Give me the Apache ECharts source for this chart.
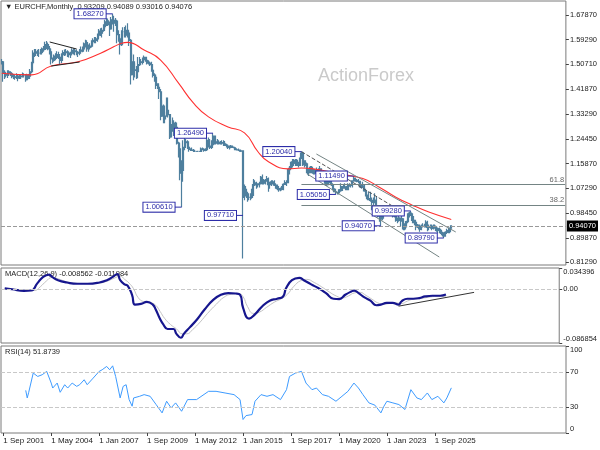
<!DOCTYPE html>
<html>
<head>
<meta charset="utf-8">
<script src="https://cdn.jsdelivr.net/npm/echarts@6/dist/echarts.min.js"></script>
<style>
  html, body { margin: 0; padding: 0; background: #fff; }
  #chart { width: 600px; height: 450px; }
</style>
</head>
<body>
<div id="chart"></div>
<script>
// monthly bars, index 0 = Aug 2001 ... index 300 = Aug 2026
var closes = [
  1.515, 1.475, 1.470, 1.468, 1.480,
  1.475, 1.473, 1.463, 1.460, 1.462, 1.465, 1.458, 1.463, 1.465, 1.467, 1.467, 1.452,
  1.468, 1.465, 1.480, 1.512, 1.545, 1.545, 1.550, 1.545, 1.545, 1.548, 1.560, 1.558,
  1.575, 1.575, 1.560, 1.550, 1.525, 1.520, 1.535, 1.530, 1.540, 1.530, 1.520, 1.540,
  1.547, 1.550, 1.547, 1.545, 1.540, 1.545, 1.555, 1.553, 1.550, 1.548, 1.545, 1.556,
  1.552, 1.560, 1.578, 1.582, 1.560, 1.565, 1.570, 1.585, 1.590, 1.590, 1.595, 1.608,
  1.622, 1.615, 1.625, 1.638, 1.655, 1.658, 1.645, 1.630, 1.662, 1.660, 1.650, 1.657,
  1.610, 1.595, 1.575, 1.620, 1.620, 1.608, 1.625, 1.615, 1.590, 1.470, 1.515, 1.487,
  1.485, 1.480, 1.505, 1.515, 1.513, 1.522, 1.530, 1.520, 1.510, 1.510, 1.505, 1.485,
  1.467, 1.460, 1.432, 1.425, 1.410, 1.325, 1.360, 1.315, 1.325, 1.345, 1.330, 1.252,
  1.295, 1.275, 1.300, 1.285, 1.230, 1.210, 1.125, 1.135, 1.215, 1.232, 1.235, 1.215,
  1.208, 1.206, 1.205, 1.201, 1.201, 1.201, 1.201, 1.201, 1.210, 1.208, 1.205, 1.207,
  1.240, 1.220, 1.215, 1.225, 1.255, 1.230, 1.235, 1.233, 1.228, 1.230, 1.232, 1.228,
  1.222, 1.220, 1.215, 1.220, 1.218, 1.215, 1.214, 1.207, 1.207, 1.206, 1.202, 1.203,
  1.040, 1.068, 1.045, 1.040, 1.040, 1.040, 1.060, 1.085, 1.090, 1.085, 1.085, 1.088,
  1.110, 1.090, 1.093, 1.100, 1.105, 1.085, 1.088, 1.095, 1.090, 1.083, 1.077, 1.071,
  1.067, 1.068, 1.072, 1.086, 1.090, 1.092, 1.135, 1.142, 1.158, 1.165, 1.160, 1.170,
  1.155, 1.152, 1.177, 1.195, 1.155, 1.160, 1.155, 1.127, 1.127, 1.145, 1.130, 1.125,
  1.135, 1.135, 1.118, 1.140, 1.125, 1.110, 1.105, 1.090, 1.085, 1.100, 1.098, 1.085,
  1.068, 1.060, 1.058, 1.057, 1.067, 1.065, 1.078, 1.077, 1.077, 1.067, 1.083, 1.082,
  1.082, 1.098, 1.107, 1.100, 1.098, 1.096, 1.080, 1.075, 1.080, 1.063, 1.045, 1.036,
  1.035, 1.030, 1.023, 1.027, 1.030, 1.000, 0.975, 0.980, 0.965, 0.988, 0.985, 0.987,
  1.005, 0.998, 0.997, 0.985, 0.975, 0.980, 0.962, 0.960, 0.968, 0.960, 0.965, 0.930,
  0.938, 0.955, 0.975, 0.985, 0.978, 0.960, 0.960, 0.945, 0.940, 0.935, 0.928, 0.940,
  0.940, 0.940, 0.953, 0.935, 0.938, 0.935, 0.932, 0.940, 0.935, 0.925, 0.930, 0.925,
  0.915, 0.910, 0.905, 0.918, 0.924, 0.920, 0.93209, 0.94076
];
var highs = [
  1.525, 1.518, 1.485, 1.480, 1.485,
  1.485, 1.482, 1.478, 1.472, 1.470, 1.475, 1.470, 1.470, 1.470, 1.477, 1.475, 1.472,
  1.473, 1.472, 1.490, 1.515, 1.555, 1.560, 1.560, 1.557, 1.560, 1.560, 1.565, 1.570,
  1.585, 1.588, 1.582, 1.570, 1.560, 1.530, 1.540, 1.545, 1.552, 1.550, 1.535, 1.545,
  1.555, 1.558, 1.560, 1.555, 1.552, 1.550, 1.562, 1.562, 1.560, 1.558, 1.552, 1.560,
  1.568, 1.568, 1.582, 1.592, 1.590, 1.575, 1.580, 1.590, 1.597, 1.602, 1.602, 1.614,
  1.630, 1.632, 1.634, 1.646, 1.662, 1.667, 1.666, 1.656, 1.672, 1.683, 1.676, 1.668,
  1.662, 1.625, 1.602, 1.625, 1.636, 1.637, 1.642, 1.650, 1.622, 1.595, 1.545, 1.540,
  1.510, 1.500, 1.532, 1.532, 1.525, 1.530, 1.537, 1.532, 1.522, 1.520, 1.516, 1.515,
  1.490, 1.475, 1.470, 1.440, 1.440, 1.420, 1.380, 1.365, 1.340, 1.390, 1.390, 1.330,
  1.310, 1.320, 1.310, 1.305, 1.285, 1.235, 1.230, 1.170, 1.240, 1.250, 1.245, 1.240,
  1.220, 1.212, 1.215, 1.210, 1.205, 1.203, 1.203, 1.203, 1.215, 1.215, 1.210, 1.212,
  1.250, 1.250, 1.245, 1.240, 1.265, 1.250, 1.245, 1.245, 1.240, 1.238, 1.240, 1.240,
  1.238, 1.228, 1.225, 1.222, 1.224, 1.222, 1.218, 1.216, 1.212, 1.211, 1.206, 1.204,
  1.205, 1.085, 1.080, 1.060, 1.055, 1.055, 1.070, 1.105, 1.100, 1.095, 1.090, 1.095,
  1.115, 1.120, 1.105, 1.105, 1.115, 1.110, 1.095, 1.100, 1.100, 1.100, 1.090, 1.085,
  1.080, 1.075, 1.080, 1.090, 1.100, 1.100, 1.140, 1.150, 1.165, 1.175, 1.175, 1.175,
  1.175, 1.165, 1.180, 1.2004, 1.200, 1.170, 1.170, 1.160, 1.140, 1.150, 1.150, 1.140,
  1.140, 1.145, 1.140, 1.150, 1.140, 1.130, 1.120, 1.105, 1.105, 1.105, 1.105, 1.100,
  1.090, 1.072, 1.070, 1.060, 1.068, 1.090, 1.080, 1.085, 1.090, 1.080, 1.090, 1.090,
  1.085, 1.100, 1.1149, 1.110, 1.105, 1.105, 1.095, 1.085, 1.095, 1.085, 1.070, 1.050,
  1.060, 1.060, 1.040, 1.040, 1.055, 1.045, 1.010, 0.980, 0.980, 0.995, 0.990, 0.995,
  1.010, 1.005, 1.000, 1.000, 0.990, 0.985, 0.980, 0.970, 0.980, 0.968, 0.975, 0.965,
  0.950, 0.958, 0.985, 0.990, 0.9928, 0.985, 0.975, 0.960, 0.955, 0.945, 0.945, 0.945,
  0.950, 0.948, 0.960, 0.958, 0.945, 0.945, 0.945, 0.945, 0.945, 0.940, 0.935, 0.935,
  0.930, 0.920, 0.918, 0.922, 0.930, 0.935, 0.935, 0.94089
];
var lows = [
  1.505, 1.445, 1.455, 1.460, 1.458,
  1.465, 1.465, 1.457, 1.455, 1.452, 1.455, 1.447, 1.455, 1.455, 1.460, 1.460, 1.445,
  1.450, 1.455, 1.455, 1.475, 1.505, 1.532, 1.535, 1.535, 1.532, 1.540, 1.540, 1.550,
  1.555, 1.560, 1.555, 1.540, 1.505, 1.510, 1.515, 1.520, 1.525, 1.525, 1.505, 1.510,
  1.535, 1.535, 1.537, 1.532, 1.530, 1.528, 1.538, 1.540, 1.538, 1.538, 1.532, 1.538,
  1.545, 1.548, 1.555, 1.565, 1.550, 1.550, 1.560, 1.565, 1.575, 1.580, 1.580, 1.585,
  1.600, 1.605, 1.600, 1.620, 1.630, 1.640, 1.640, 1.605, 1.630, 1.645, 1.620, 1.640,
  1.580, 1.585, 1.540, 1.570, 1.605, 1.600, 1.600, 1.600, 1.570, 1.435, 1.470, 1.450,
  1.460, 1.455, 1.457, 1.500, 1.505, 1.505, 1.515, 1.515, 1.505, 1.505, 1.500, 1.480,
  1.460, 1.445, 1.420, 1.420, 1.385, 1.310, 1.330, 1.300, 1.300, 1.330, 1.320, 1.245,
  1.250, 1.270, 1.255, 1.265, 1.225, 1.180, 1.100, 1.0061, 1.095, 1.205, 1.220, 1.210,
  1.200, 1.203, 1.203, 1.199, 1.200, 1.200, 1.200, 1.200, 1.200, 1.205, 1.200, 1.202,
  1.205, 1.215, 1.210, 1.210, 1.225, 1.225, 1.225, 1.225, 1.225, 1.225, 1.225, 1.220,
  1.220, 1.215, 1.210, 1.208, 1.212, 1.213, 1.212, 1.205, 1.204, 1.203, 1.201, 1.200,
  0.826, 1.030, 1.045, 1.025, 1.030, 1.030, 1.035, 1.045, 1.080, 1.070, 1.075, 1.075,
  1.085, 1.085, 1.085, 1.085, 1.095, 1.060, 1.070, 1.080, 1.085, 1.080, 1.070, 1.065,
  1.060, 1.062, 1.064, 1.065, 1.085, 1.080, 1.090, 1.120, 1.135, 1.145, 1.150, 1.150,
  1.150, 1.145, 1.150, 1.175, 1.150, 1.145, 1.150, 1.120, 1.115, 1.128, 1.125, 1.120,
  1.120, 1.130, 1.115, 1.115, 1.120, 1.105, 1.100, 1.080, 1.080, 1.085, 1.090, 1.080,
  1.065, 1.058, 1.0505, 1.050, 1.050, 1.060, 1.062, 1.070, 1.070, 1.066, 1.065, 1.077,
  1.075, 1.075, 1.095, 1.095, 1.093, 1.090, 1.075, 1.070, 1.075, 1.060, 1.045, 1.030,
  1.030, 1.025, 0.995, 1.010, 1.020, 0.995, 0.970, 0.955, 0.9407, 0.960, 0.965, 0.975,
  0.985, 0.985, 0.975, 0.980, 0.970, 0.970, 0.955, 0.950, 0.955, 0.940, 0.955, 0.925,
  0.925, 0.935, 0.950, 0.970, 0.975, 0.950, 0.950, 0.925, 0.935, 0.928, 0.920, 0.925,
  0.935, 0.935, 0.935, 0.922, 0.925, 0.930, 0.925, 0.928, 0.930, 0.920, 0.915, 0.915,
  0.912, 0.903, 0.8979, 0.902, 0.912, 0.915, 0.915, 0.93016
];

// [month index, value]
var maPoints = [
  [0, 1.475], [20, 1.469], [33, 1.500], [51, 1.515], [66, 1.545], [75, 1.568], [80, 1.580],
  [84, 1.583], [95, 1.556], [106, 1.521], [118, 1.440], [128, 1.370], [138, 1.322], [151, 1.287],
  [162, 1.266], [171, 1.200], [178, 1.165], [191, 1.140], [200, 1.143], [208, 1.140], [226, 1.122],
  [241, 1.106], [252, 1.076], [263, 1.041], [274, 1.013], [285, 0.989], [300, 0.963]
];
var macdPoints = [
  [2, 0.0016], [7, 0], [15, -0.0026], [20, -0.002], [24, 0.0095], [28, 0.020], [32, 0.0237],
  [34, 0.020], [38, 0.0147], [44, 0.011], [51, 0.0089], [58, 0.0089], [66, 0.011], [71, 0.0147],
  [75, 0.020], [78, 0.0247], [80, 0.0147], [83, 0.0079], [85, 0.0058], [88, -0.0089], [90, -0.0247],
  [94, -0.0237], [98, -0.0205], [102, -0.0247], [104, -0.0326], [107, -0.0484], [109, -0.0563],
  [112, -0.0642], [116, -0.0642], [118, -0.0721], [121, -0.0784], [123, -0.0721], [127, -0.0616],
  [132, -0.0484], [137, -0.0326], [143, -0.0168], [148, -0.0089], [153, -0.0063], [158, -0.0068],
  [161, -0.0089], [163, -0.030], [167, -0.0474], [171, -0.0405], [176, -0.0274], [181, -0.0184],
  [186, -0.0153], [190, -0.0116], [192, 0.0016], [196, 0.0147], [201, 0.0184], [204, 0.0147],
  [209, 0.0079], [214, 0.0016], [219, -0.0063], [224, -0.0153], [228, -0.0158], [232, -0.0089],
  [236, -0.0037], [238, -0.0021], [241, -0.0063], [245, -0.0132], [249, -0.0184], [253, -0.0258],
  [256, -0.0247], [260, -0.0221], [264, -0.0221], [268, -0.0247], [270, -0.0195], [274, -0.0153],
  [278, -0.0153], [282, -0.0142], [286, -0.0116], [291, -0.0105], [296, -0.0105], [300, -0.008562]
];
var signalPoints = [
  [2, 0.001], [9, 0.000], [17, -0.0015], [22, -0.002], [26, 0.004], [30, 0.013], [34, 0.019],
  [38, 0.017], [44, 0.012], [51, 0.0095], [58, 0.009], [66, 0.010], [71, 0.013], [76, 0.018],
  [80, 0.021], [83, 0.016], [86, 0.010], [89, 0.001], [92, -0.013], [96, -0.020], [100, -0.021],
  [104, -0.026], [107, -0.036], [110, -0.047], [114, -0.057], [118, -0.064], [122, -0.072],
  [125, -0.072], [129, -0.065], [134, -0.053], [139, -0.039], [145, -0.024], [150, -0.013],
  [155, -0.008], [160, -0.007], [163, -0.012], [166, -0.028], [170, -0.039], [174, -0.037],
  [179, -0.029], [184, -0.021], [189, -0.015], [193, -0.008], [197, 0.004], [202, 0.014],
  [206, 0.016], [211, 0.011], [216, 0.004], [221, -0.004], [226, -0.011], [230, -0.014],
  [234, -0.011], [238, -0.006], [242, -0.005], [246, -0.010], [250, -0.016], [254, -0.022],
  [258, -0.024], [262, -0.023], [266, -0.022], [270, -0.023], [274, -0.019], [278, -0.016],
  [283, -0.015], [288, -0.013], [294, -0.0115], [300, -0.011984]
];
var rsiPoints = [
  [16, 49], [17, 40.3], [18, 46.8], [19, 48], [21, 68.9], [24, 65], [27, 67], [30, 70.8],
  [33, 57.4], [34, 51.7], [37, 57.4], [39, 46.8], [42, 55.5], [44, 51.7], [47, 57.4], [50, 53.6],
  [52, 55.5], [55, 61.2], [57, 55.5], [61, 63.1], [65, 70.8], [67, 72.7], [70, 76.5], [72, 72.7],
  [74, 77.2], [76, 65], [79, 40.3], [81, 53.6], [83, 55.5], [85, 38.4], [87, 30.8], [88, 40.3],
  [92, 42.2], [95, 44.1], [99, 42.2], [103, 32.7], [107, 23.1], [110, 36.5], [113, 28.9],
  [116, 34.6], [120, 25], [124, 38.4], [130, 38.4], [138, 47.9], [143, 47.9], [149, 46],
  [155, 44.1], [159, 38.4], [161, 15.5], [163, 20], [167, 21.2], [169, 36.5], [173, 44.1],
  [177, 42.2], [181, 44.1], [186, 38.4], [190, 49.8], [192, 65], [196, 68.9], [200, 70.8],
  [203, 57.4], [207, 49.8], [210, 51.7], [214, 44.1], [218, 42.2], [223, 36.5], [227, 42.2],
  [231, 47.9], [235, 57.4], [238, 51.7], [241, 44.1], [245, 34.6], [249, 32], [253, 23.1],
  [255, 30.8], [257, 36.5], [261, 34.6], [265, 32.7], [269, 27], [273, 49.8], [277, 40.3],
  [280, 38.4], [284, 46], [287, 38.4], [291, 42.2], [295, 34.6], [297, 40.3], [300, 51.8739]
];

// swing-point labels: month index of the bar, price
var pivotMonths = [74, 141, 120, 161, 200, 235, 223, 273, 253, 295];
var pivotPrices = [1.6827, 1.2649, 1.0061, 0.9771, 1.2004, 1.1149, 1.0505, 0.9928, 0.9407, 0.8979];

var priceTicks = [0.8129, 0.8987, 0.9845, 1.0729, 1.1587, 1.2445, 1.3329, 1.4187, 1.5071, 1.5929, 1.6787];
var macdTicks = [-0.086854, 0, 0.034396];
var rsiTicks = [0, 30, 70, 100];
var fibNames = ['61.8', '38.2'];
var fibLevels = [1.0848, 1.0135];
var lastPrice = 0.9407;

var monthNames = ['Jan', 'Feb', 'Mar', 'Apr', 'May', 'Jun', 'Jul', 'Aug', 'Sep', 'Oct', 'Nov', 'Dec'];
var months = [];
for (var i = 0; i < 377; i++) {
  var m = 7 + i;
  months.push('1 ' + monthNames[m % 12] + ' ' + (2001 + Math.floor(m / 12)));
}

var candles = closes.map(function (c, i) {
  var o = i === 0 ? c : closes[i - 1];
  return [o, c, lows[i], highs[i]];
});

var font = '"Liberation Sans", Arial, sans-serif';
var barColor = '#4e7f9e';
var boxBlue = '#2c2ca8';

function showLabel(i) { return i % 32 === 1 && i <= 300; }

function renderPivot(params, api) {
  var p = api.coord([api.value(0), api.value(1)]);
  var x0 = p[0] - 7;
  return {
    type: 'group',
    children: [
      { type: 'line', shape: { x1: x0, y1: p[1], x2: p[0], y2: p[1] }, style: { stroke: boxBlue, lineWidth: 1 } },
      {
        type: 'text', x: x0, y: p[1],
        style: {
          text: api.value(1).toFixed(5), font: '7.5px ' + font, fill: boxBlue,
          align: 'right', verticalAlign: 'middle',
          backgroundColor: '#fff', borderColor: boxBlue, borderWidth: 1, padding: [1, 2, 0, 2]
        }
      }
    ]
  };
}

function seg(a, b, style) {
  return [{ coord: a, lineStyle: style }, { coord: b }];
}

var chart = echarts.init(document.getElementById('chart'));
var option = {
  animation: false,
  backgroundColor: '#fff',
  textStyle: { fontFamily: font },
  grid: [
    { left: 1, top: 1, width: 565, height: 264, show: true, borderColor: '#7a7a7a', borderWidth: 1 },
    { left: 1, top: 268, width: 565, height: 75, show: true, borderColor: '#7a7a7a', borderWidth: 1 },
    { left: 1, top: 346, width: 565, height: 87, show: true, borderColor: '#7a7a7a', borderWidth: 1 }
  ],
  xAxis: [0, 1, 2].map(function (g) {
    return {
      type: 'category', gridIndex: g, data: months, boundaryGap: true,
      axisLine: { show: false },
      axisTick: { show: g === 2, interval: showLabel, alignWithLabel: true, length: 3, lineStyle: { color: '#444' } },
      axisLabel: {
        show: g === 2, interval: showLabel, align: 'left', margin: 4,
        fontSize: 8, color: '#222', fontFamily: font
      },
      splitLine: { show: false }
    };
  }),
  yAxis: [
    {
      type: 'value', gridIndex: 0, position: 'right', min: 0.8035, max: 1.7277,
      axisLine: { show: false }, splitLine: { show: false },
      axisTick: { show: true, customValues: priceTicks, length: 3, lineStyle: { color: '#444' } },
      axisLabel: {
        customValues: priceTicks, margin: 4, fontSize: 7.5, color: '#222', fontFamily: font,
        formatter: function (v) { return v.toFixed(5); }
      }
    },
    {
      type: 'value', gridIndex: 1, position: 'right', min: -0.086854, max: 0.034396,
      axisLine: { show: false }, splitLine: { show: false },
      axisTick: { show: true, customValues: macdTicks, length: 3, lineStyle: { color: '#444' } },
      axisLabel: {
        customValues: macdTicks, margin: 4, fontSize: 7.5, color: '#222', fontFamily: font,
        verticalAlignMinLabel: 'bottom', verticalAlignMaxLabel: 'top',
        formatter: function (v) { return v === 0 ? '0.00' : String(v); }
      }
    },
    {
      type: 'value', gridIndex: 2, position: 'right', min: 0, max: 100,
      axisLine: { show: false }, splitLine: { show: false },
      axisTick: { show: true, customValues: rsiTicks, length: 3, lineStyle: { color: '#444' } },
      axisLabel: {
        customValues: rsiTicks, margin: 4, fontSize: 7.5, color: '#222', fontFamily: font,
        verticalAlignMinLabel: 'bottom', verticalAlignMaxLabel: 'top'
      }
    }
  ],
  graphic: [
    { type: 'text', left: 5, top: 3, style: { text: '\u25BC EURCHF,Monthly  0.93209 0.94089 0.93016 0.94076', font: '7.5px ' + font, fill: '#222' } },
    { type: 'text', left: 318, top: 67, style: { text: 'ActionForex', font: '18px ' + font, fill: '#cacaca' } },
    { type: 'text', left: 5, top: 270, style: { text: 'MACD(12,26,9) -0.008562 -0.011984', font: '7.5px ' + font, fill: '#222' } },
    { type: 'text', left: 5, top: 348, style: { text: 'RSI(14) 51.8739', font: '7.5px ' + font, fill: '#222' } }
  ],
  series: [
    {
      name: 'EURCHF', type: 'candlestick', xAxisIndex: 0, yAxisIndex: 0,
      data: candles, barWidth: 1.5,
      itemStyle: { color: barColor, color0: barColor, borderColor: barColor, borderColor0: barColor, borderWidth: 1.2 },
      markLine: {
        silent: true, symbol: ['none', 'none'], animation: false,
        label: { show: false },
        data: [
          seg([32, 1.5842], [50, 1.5597], { color: '#222', width: 1, type: 'solid' }),
          seg([33, 1.4999], [52, 1.5142], { color: '#222', width: 1, type: 'solid' }),
          seg([210, 1.192], [303, 0.919], { color: '#748484', width: 1, type: 'solid' }),
          seg([204, 1.122], [292, 0.8315], { color: '#748484', width: 1, type: 'solid' }),
          seg([200, 1.2004], [263, 1.003], { color: '#555', width: 1, type: 'dashed' }),
          [
            { coord: [200, fibLevels[0]], lineStyle: { color: '#748484', width: 1, type: 'solid' },
              label: { show: true, position: 'insideEndTop', formatter: fibNames[0], fontSize: 7.5, color: '#666', distance: 1 } },
            { coord: [376, fibLevels[0]] }
          ],
          [
            { coord: [200, fibLevels[1]], lineStyle: { color: '#748484', width: 1, type: 'solid' },
              label: { show: true, position: 'insideEndTop', formatter: fibNames[1], fontSize: 7.5, color: '#666', distance: 1 } },
            { coord: [376, fibLevels[1]] }
          ],
          {
            yAxis: lastPrice, lineStyle: { color: '#999', width: 1, type: 'dashed' },
            label: {
              show: true, position: 'end', distance: 1, formatter: lastPrice.toFixed(5),
              backgroundColor: '#000', color: '#fff', fontSize: 7.5, padding: [2, 2, 1, 2]
            }
          }
        ]
      }
    },
    {
      name: 'MA', type: 'line', xAxisIndex: 0, yAxisIndex: 0, data: maPoints,
      smooth: true, showSymbol: false, lineStyle: { color: '#ff3030', width: 1.1 }
    },
    {
      name: 'pivots', type: 'custom', xAxisIndex: 0, yAxisIndex: 0, z: 5,
      data: pivotMonths.map(function (m, i) { return [m, pivotPrices[i]]; }),
      renderItem: renderPivot
    },
    {
      name: 'Signal', type: 'line', xAxisIndex: 1, yAxisIndex: 1, data: signalPoints,
      smooth: true, showSymbol: false, lineStyle: { color: '#c4c4c4', width: 1 }
    },
    {
      name: 'MACD', type: 'line', xAxisIndex: 1, yAxisIndex: 1, data: macdPoints,
      smooth: true, showSymbol: false, lineStyle: { color: '#16168e', width: 2.2 },
      markLine: {
        silent: true, symbol: ['none', 'none'], label: { show: false },
        data: [
          { yAxis: 0, lineStyle: { color: '#c8c8c8', width: 1, type: 'dashed' } },
          seg([268, -0.0273], [319, -0.005], { color: '#333', width: 1, type: 'solid' })
        ]
      }
    },
    {
      name: 'RSI', type: 'line', xAxisIndex: 2, yAxisIndex: 2, data: rsiPoints,
      showSymbol: false, lineStyle: { color: '#3d9bff', width: 1 },
      markLine: {
        silent: true, symbol: ['none', 'none'], label: { show: false },
        lineStyle: { color: '#c8c8c8', width: 1, type: 'dashed' },
        data: [{ yAxis: 70 }, { yAxis: 30 }]
      }
    }
  ]
};
chart.setOption(option);
</script>
</body>
</html>
